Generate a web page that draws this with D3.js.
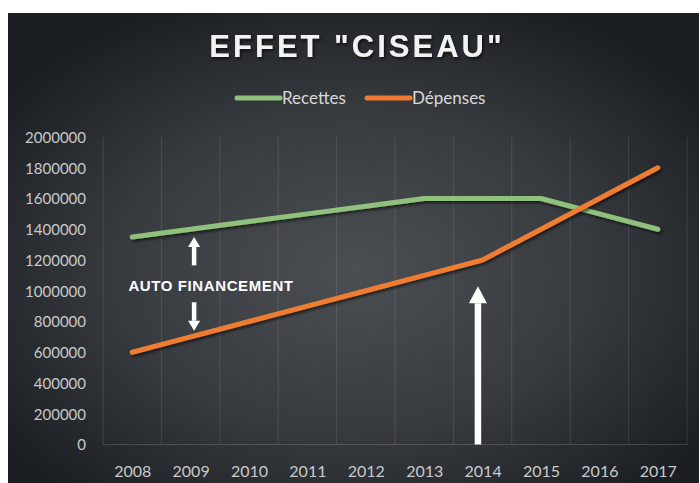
<!DOCTYPE html>
<html>
<head>
<meta charset="utf-8">
<script src="https://cdn.jsdelivr.net/npm/d3@7"></script>
<style>
  html, body { margin: 0; padding: 0; background: #ffffff; }
  svg { display: block; }
</style>
</head>
<body>
<svg id="chart" width="700" height="483"></svg>
<script>
const years = [2008, 2009, 2010, 2011, 2012, 2013, 2014, 2015, 2016, 2017];
const recettes = [1350000, 1400000, 1450000, 1500000, 1550000, 1600000, 1600000, 1600000, 1500000, 1400000];
const depenses = [600000, 700000, 800000, 900000, 1000000, 1100000, 1200000, 1400000, 1600000, 1800000];
const yTicks = [0, 200000, 400000, 600000, 800000, 1000000, 1200000, 1400000, 1600000, 1800000, 2000000];
const seriesNames = ["Recettes", "Dépenses"];
const seriesColors = ["#8fc17b", "#ee7d33"];
const titleText = 'EFFET "CISEAU"';
const annotationText = "AUTO FINANCEMENT";
// annotation arrows: [year, fromValue, toValue]
const arrows = [
  [2009.06, 1165000, 1350000],
  [2009.06, 925000, 740000],
  [2013.92, 0, 1030000]
];

const W = 700, H = 483;
const svg = d3.select("#chart");
const defs = svg.append("defs");

const grad = defs.append("radialGradient").attr("id", "bg")
  .attr("cx", "50%").attr("cy", "55%").attr("r", "62%");
grad.append("stop").attr("offset", "0%").attr("stop-color", "#4b4e52");
grad.append("stop").attr("offset", "55%").attr("stop-color", "#373a3e");
grad.append("stop").attr("offset", "100%").attr("stop-color", "#1b1f24");

const sh = defs.append("filter").attr("id", "shadow").attr("x", "-20%").attr("y", "-20%").attr("width", "140%").attr("height", "140%");
sh.append("feDropShadow").attr("dx", 1.5).attr("dy", 2).attr("stdDeviation", 1.5)
  .attr("flood-color", "#000").attr("flood-opacity", 0.6);

svg.append("rect").attr("x", 8).attr("y", 13).attr("width", W - 9).attr("height", H - 13)
  .attr("fill", "url(#bg)");

const plot = { left: 103, right: 687, top: 137, bottom: 444.5 };
const x = d3.scaleLinear().domain([years[0] - 0.5, years[years.length - 1] + 0.5]).range([plot.left, plot.right]);
const y = d3.scaleLinear().domain([0, 2000000]).range([plot.bottom, plot.top]);

// vertical gridlines at category boundaries
const bounds = years.map(d => d - 0.5).concat([years[years.length - 1] + 0.5]);
svg.append("g").selectAll("line").data(bounds).join("line")
  .attr("x1", d => x(d)).attr("x2", d => x(d))
  .attr("y1", plot.top).attr("y2", plot.bottom)
  .attr("stroke", "#ffffff").attr("stroke-opacity", 0.11).attr("stroke-width", 1);

// bottom axis line
svg.append("line").attr("x1", plot.left).attr("x2", plot.right)
  .attr("y1", plot.bottom).attr("y2", plot.bottom)
  .attr("stroke", "#ffffff").attr("stroke-opacity", 0.15);

// y axis labels
const yAxis = d3.axisLeft(y).tickValues(yTicks).tickSize(0).tickPadding(0).tickFormat(d3.format("d"));
const gy = svg.append("g").attr("transform", `translate(86,0)`).call(yAxis);
gy.select(".domain").remove();
gy.selectAll("text").attr("fill", "#c9c9c9").attr("font-family", "Lato, 'Open Sans', sans-serif")
  .attr("font-size", 15).attr("dy", "0.36em");

// x axis labels
const xAxis = d3.axisBottom(x).tickValues(years).tickSize(0).tickPadding(0).tickFormat(d3.format("d"));
const gx = svg.append("g").attr("transform", `translate(0,${plot.bottom})`).call(xAxis);
gx.select(".domain").remove();
gx.selectAll("text").attr("fill", "#c9c9c9").attr("font-family", "Lato, 'Open Sans', sans-serif")
  .attr("font-size", 16).attr("dy", 0).attr("y", 32);

// lines
const line = d3.line().x((d, i) => x(years[i])).y(d => y(d));
[recettes, depenses].forEach((vals, k) => {
  svg.append("path").datum(vals).attr("d", line)
    .attr("fill", "none").attr("stroke", seriesColors[k]).attr("stroke-width", 5)
    .attr("stroke-linecap", "round").attr("stroke-linejoin", "round")
    .attr("filter", "url(#shadow)");
});

// title
svg.append("text").attr("x", 357).attr("y", 57).attr("text-anchor", "middle")
  .attr("font-family", "Arial, 'Liberation Sans', sans-serif").attr("font-weight", "bold")
  .attr("font-size", 31).attr("letter-spacing", 3).attr("fill", "#f2f2f2")
  .attr("filter", "url(#shadow)").text(titleText);

// legend
const legendX = [237, 367];
seriesNames.forEach((name, k) => {
  svg.append("line").attr("x1", legendX[k]).attr("x2", legendX[k] + 43)
    .attr("y1", 98).attr("y2", 98).attr("stroke", seriesColors[k]).attr("stroke-width", 5)
    .attr("stroke-linecap", "round");
  svg.append("text").attr("x", legendX[k] + 45).attr("y", 104)
    .attr("font-family", "Lato, 'Open Sans', sans-serif").attr("font-size", 17)
    .attr("fill", "#d9d9d9").text(name);
});

// arrows
function arrow(yr, v0, v1, shaft, headW, headH) {
  const ax = x(yr), y0 = y(v0), y1 = y(v1);
  const dir = y1 < y0 ? -1 : 1;
  const hb = y1 - dir * headH;
  svg.append("line").attr("x1", ax).attr("x2", ax).attr("y1", y0).attr("y2", hb)
    .attr("stroke", "#ffffff").attr("stroke-width", shaft);
  svg.append("path")
    .attr("d", `M${ax - headW / 2},${hb} L${ax + headW / 2},${hb} L${ax},${y1} Z`)
    .attr("fill", "#ffffff");
}
arrow(arrows[0][0], arrows[0][1], arrows[0][2], 4.5, 12, 10);
arrow(arrows[1][0], arrows[1][1], arrows[1][2], 4.5, 12, 10);
arrow(arrows[2][0], arrows[2][1], arrows[2][2], 6.5, 18, 17);

svg.append("text").attr("x", 211).attr("y", 291).attr("text-anchor", "middle")
  .attr("font-family", "Arial, 'Liberation Sans', sans-serif").attr("font-weight", "bold")
  .attr("font-size", 15).attr("letter-spacing", 0.6).attr("fill", "#ffffff")
  .text(annotationText);
</script>
</body>
</html>
